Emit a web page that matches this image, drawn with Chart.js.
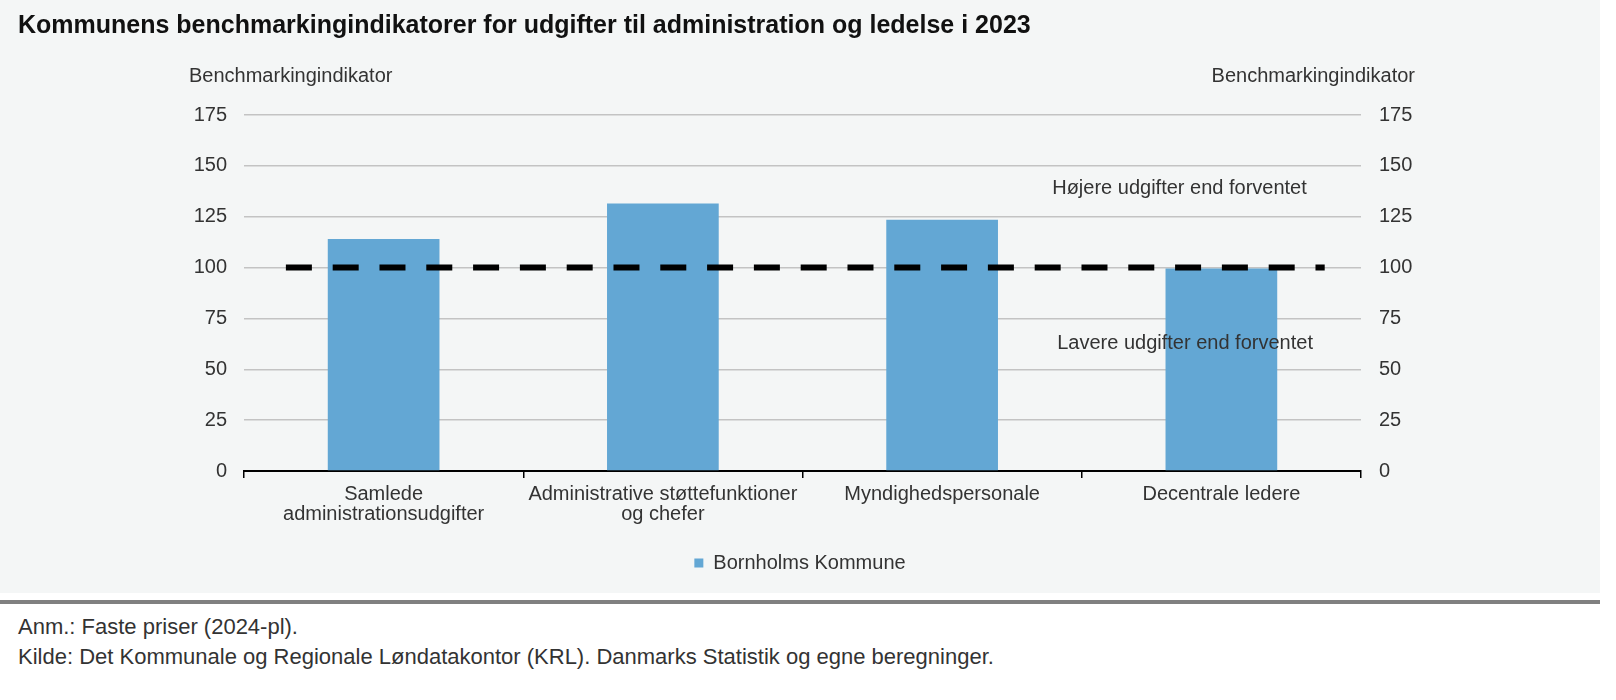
<!DOCTYPE html>
<html lang="da">
<head>
<meta charset="utf-8">
<title>Benchmarkingindikatorer 2023</title>
<script src="https://cdn.jsdelivr.net/npm/chart.js@4.4.1/dist/chart.umd.min.js"></script>
<style>
  body { margin: 0; background: #fff; font-family: "Liberation Sans", Arial, sans-serif; }
  #ramme { position: absolute; left: 0; top: 0; width: 1600px; height: 593px; background: #f4f6f6; }
  #boks { position: absolute; left: 0; top: 0; width: 1600px; height: 593px; }
  #titel { position: absolute; left: 18px; top: 10px; font-size: 25px; font-weight: bold; color: #111; }
  #streg { position: absolute; left: 0; top: 600px; width: 1600px; height: 4px; background: #808080; }
  .note { position: absolute; left: 18px; font-size: 22px; color: #333; }
</style>
</head>
<body>
<div id="ramme">
  <div id="boks"><canvas id="myChart"></canvas></div>
  <div id="titel">Kommunens benchmarkingindikatorer for udgifter til administration og ledelse i 2023</div>
</div>
<div id="streg"></div>
<div class="note" style="top:614px">Anm.: Faste priser (2024-pl).</div>
<div class="note" style="top:644px">Kilde: Det Kommunale og Regionale Løndatakontor (KRL). Danmarks Statistik og egne beregninger.</div>

<script>
// data
var kategorier = [["Samlede", "administrationsudgifter"], ["Administrative støttefunktioner", "og chefer"], "Myndighedspersonale", "Decentrale ledere"];
var bornholm = [114, 131.5, 123.5, 99.5];
var yMin = 0;
var yMax = 175;
var yStep = 25;
// den stiplede linje ved 100, x i kategori-enheder
var forventetX = [-0.35, 3.37];
var forventetY = [100, 100];

var skrift = '"Liberation Sans", Arial, sans-serif';
var graa = '#333333';

var linjePunkter = [];
for (var i = 0; i < forventetX.length; i++) {
  linjePunkter.push({ x: forventetX[i], y: forventetY[i] });
}

// tekster der ikke hører til en akse
var tekster = {
  id: 'tekster',
  afterDatasetsDraw: function(chart) {
    var ctx = chart.ctx;
    var a = chart.chartArea;
    var x = chart.scales.xLinje;
    var y = chart.scales.y;
    ctx.save();
    ctx.fillStyle = graa;
    ctx.font = '20px ' + skrift;
    ctx.textBaseline = 'middle';
    ctx.textAlign = 'center';
    ctx.fillText('Højere udgifter end forventet', x.getPixelForValue(2.85), y.getPixelForValue(139));
    ctx.fillText('Lavere udgifter end forventet', x.getPixelForValue(2.87), y.getPixelForValue(62.5));
    ctx.textAlign = 'left';
    ctx.fillText('Benchmarkingindikator', a.left - 55, 76);
    ctx.textAlign = 'right';
    ctx.fillText('Benchmarkingindikator', a.right + 54, 76);
    ctx.restore();
  }
};

var ctx = document.getElementById('myChart').getContext('2d');
var chart = new Chart(ctx, {
  type: 'bar',
  data: {
    labels: kategorier,
    datasets: [{
      type: 'line',
      label: 'Forventet',
      data: linjePunkter,
      xAxisID: 'xLinje',
      yAxisID: 'y',
      borderColor: '#000',
      borderWidth: 6,
      borderDash: [26, 20.8],
      borderCapStyle: 'butt',
      pointRadius: 0,
      fill: false,
      order: 0
    }, {
      label: 'Bornholms Kommune',
      data: bornholm,
      backgroundColor: '#63a7d4',
      grouped: false,
      barPercentage: 0.4,
      categoryPercentage: 1,
      order: 1
    }]
  },
  options: {
    responsive: true,
    maintainAspectRatio: false,
    animation: false,
    layout: {
      padding: { left: 0, right: 0, top: 115, bottom: 10 }
    },
    plugins: {
      title: { display: false },
      tooltip: { enabled: false },
      legend: {
        position: 'bottom',
        labels: {
          filter: function(item) { return item.datasetIndex === 1; },
          boxWidth: 9,
          boxHeight: 9,
          padding: 10,
          color: graa,
          font: { family: skrift, size: 20 }
        }
      }
    },
    scales: {
      x: {
        offset: true,
        afterFit: function(scale) { scale.height = 72; },
        border: { display: true, color: '#000', width: 2 },
        grid: { offset: true, drawOnChartArea: false, drawTicks: true, tickLength: 7, color: '#000', lineWidth: 1.5 },
        ticks: {
          color: graa,
          padding: 6,
          maxRotation: 0,
          autoSkip: false,
          font: { family: skrift, size: 20, lineHeight: 1.0 }
        }
      },
      xLinje: {
        type: 'linear',
        display: false,
        offset: false,
        min: -0.5,
        max: 3.5
      },
      y: {
        position: 'left',
        min: yMin,
        max: yMax,
        afterFit: function(scale) { scale.width = 244; },
        border: { display: false },
        grid: {
          drawTicks: false,
          lineWidth: 1.5,
          color: function(c) { return c.tick && c.tick.value === 0 ? 'rgba(0,0,0,0)' : '#c3c3c3'; }
        },
        ticks: { stepSize: yStep, padding: 17, color: graa, font: { family: skrift, size: 20 } }
      },
      y2: {
        position: 'right',
        min: yMin,
        max: yMax,
        afterFit: function(scale) { scale.width = 239; },
        border: { display: false },
        grid: { display: false, drawTicks: false },
        ticks: { stepSize: yStep, padding: 18, color: graa, font: { family: skrift, size: 20 } }
      }
    }
  },
  plugins: [tekster]
});
</script>
</body>
</html>
